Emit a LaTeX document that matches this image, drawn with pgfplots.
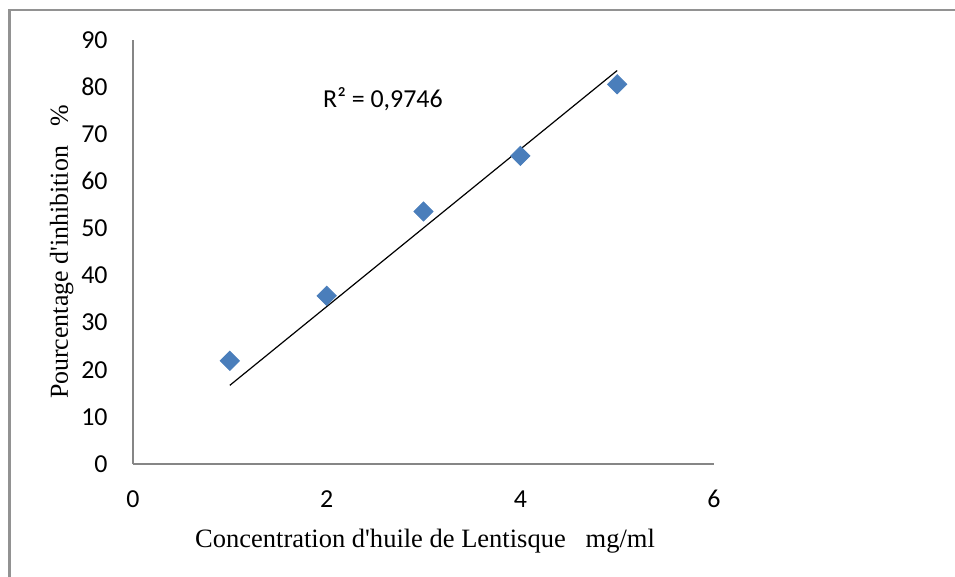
\documentclass[border=0pt]{standalone}
\usepackage{pgfplots}
\pgfplotsset{compat=1.18}
\usepackage{fontspec}
\setmainfont{Liberation Serif}
\newfontfamily\calibri{Carlito}
\definecolor{mkblue}{HTML}{4A7EBB}
\definecolor{axgray}{HTML}{868686}
\begin{document}
\begin{tikzpicture}
\useasboundingbox (0,0) rectangle (477.5bp,288.5bp);
\draw[color=axgray!90, line width=1.2bp] (4.75bp,-2bp) -- (4.75bp,283.5bp) -- (480bp,283.5bp);
\begin{axis}[
  at={(66.5bp,56.5bp)}, anchor=south west,
  scale only axis, width=290.5bp, height=212bp,
  xmin=0, xmax=6, ymin=0, ymax=90,
  xtick={0,2,4,6}, ytick={0,10,...,90},
  axis x line*=bottom, axis y line*=left,
  axis line style={color=axgray, line width=0.6bp, -},
  major tick length=0pt,
  clip=false,
  /pgf/number format/assume math mode=true,
  ticklabel style={font=\calibri\fontsize{13}{15}\selectfont, inner sep=0pt},
  yticklabel style={anchor=east},
  xticklabel style={anchor=north},
  yticklabel shift=12.5bp,
  xticklabel shift=13bp,
  xlabel={Concentration d\textquotesingle huile de Lentisque\ \ \ mg/ml},
  ylabel={Pourcentage d\textquotesingle inhibition\ \ \ \%},
  xlabel style={font=\fontsize{13.3}{15}\selectfont, at={(axis description cs:0.5026,-0.198)}, anchor=base},
  ylabel style={font=\fontsize{13}{15}\selectfont, at={(axis description cs:-0.112,0.5)}, anchor=base},
]
\addplot[only marks, mark=square*, mark size=3.4bp, mark options={rotate=45, fill=mkblue, draw=mkblue}]
  coordinates {(1,21.9) (2,35.7) (3,53.6) (4,65.4) (5,80.6)};
\addplot[black, line width=0.6bp, no marks] coordinates {(1,16.70) (5,83.52)};
\node[anchor=west, inner sep=0pt, font=\calibri\fontsize{13}{15}\selectfont] at (axis cs:1.96,77.5) {R² = 0,9746};
\end{axis}
\end{tikzpicture}
\end{document}
